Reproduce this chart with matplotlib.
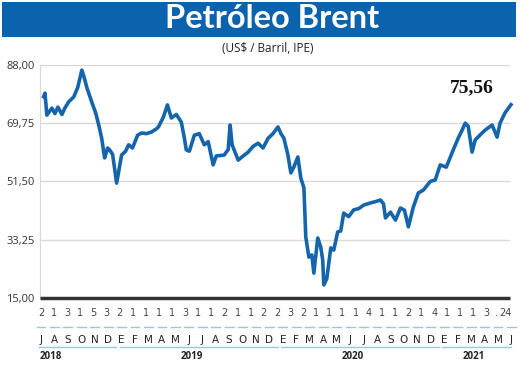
import matplotlib
matplotlib.use("Agg")
import matplotlib.pyplot as plt
from matplotlib.patches import Rectangle

# meses desde jul/2018 (0 = julho 2018) e preço do Brent
meses = [0.2, 0.3, 0.44, 0.81, 1.04, 1.26, 1.56, 1.78, 2.07, 2.44, 2.74, 3.04, 3.19, 3.41,
         3.78, 4.07, 4.30, 4.52, 4.67, 4.74, 4.96, 5.11, 5.33, 5.63, 6.0, 6.3, 6.52, 6.81,
         7.19, 7.48, 7.85, 8.22, 8.59, 8.74, 9.11, 9.41, 9.7, 10.07, 10.44, 10.67, 10.81,
         11.04, 11.41, 11.78, 12.15, 12.44, 12.81, 13.04, 13.63, 13.93, 14.07, 14.22, 14.67,
         15.04, 15.41, 15.78, 16.15, 16.52, 16.89, 17.26, 17.63, 17.85, 18.07, 18.37, 18.59,
         18.81, 19.11, 19.33, 19.56, 19.70, 19.93, 20.15, 20.3, 20.59, 20.81, 20.96, 21.04,
         21.26, 21.56, 21.78, 22.07, 22.3, 22.52, 22.89, 23.26, 23.63, 24.0, 24.52, 24.89,
         25.26, 25.48, 25.63, 26.0, 26.37, 26.74, 27.04, 27.33, 27.7, 28.07, 28.44, 28.96,
         29.33, 29.7, 30.15, 30.67, 31.04, 31.33, 31.56, 31.78, 32.07, 32.3, 32.67, 33.04,
         33.56, 33.93, 34.15, 34.52, 34.96]
preco = [78.1, 79.2, 72.3, 74.5, 72.8, 74.8, 72.5, 74.5, 76.5, 78.0, 81.0, 86.4, 84.5, 81.0,
         76.4, 73.0, 69.2, 65.0, 60.7, 58.9, 62.0, 61.4, 60.0, 51.0, 59.8, 61.0, 63.0, 62.0,
         66.0, 66.7, 66.5, 67.0, 68.0, 68.6, 71.7, 75.5, 71.4, 72.5, 70.1, 65.1, 61.4,
         61.0, 66.0, 66.5, 63.0, 64.0, 56.7, 59.5, 59.8, 61.5, 69.2, 63.0, 58.2,
         59.5, 60.7, 62.5, 63.5, 62.0, 65.0, 66.5, 68.6, 66.5, 65.1, 59.8, 54.2,
         56.0, 59.2, 52.6, 49.5, 34.1, 27.8, 28.5, 22.8, 33.8, 31.0, 26.9, 19.1,
         21.0, 30.7, 30.0, 35.7, 36.0, 41.6, 40.5, 42.6, 43.0, 44.1, 44.8, 45.2,
         45.7, 44.5, 40.1, 41.9, 39.4, 43.2, 42.5, 37.3, 43.5, 47.9, 48.8, 51.5,
         52.0, 56.7, 56.0, 61.4, 65.1, 67.6, 69.8, 68.8, 60.7, 64.5, 66.1, 67.6,
         69.2, 65.4, 69.8, 73.0, 75.56]

letras = list("JASOND") + list("EFMAMJJASOND") * 2 + list("EFMAMJ")
dias = ["2", "1", "3", "1", "5", "3", "2", "1", "1", "1", "1", "3", "1", "1", "2", "1", "1", "2",
        "2", "3", "2", "1", "1", "1", "1", "4", "1", "1", "2", "1", "4", "1", "1", "1", "3"]
fim_dias = [".", "24"]
anos = ["2018", "2019", "2020", "2021"]
yticks = [15.0, 33.25, 51.5, 69.75, 88.0]
ultimo = "75,56"

azul = "#0b63ae"
azul_claro = "#9cc7e4"

W, H = 520, 367
fig = plt.figure(figsize=(W / 100, H / 100), dpi=100)

# barra do título
fig.patches.append(Rectangle((2 / W, 1 - 37 / H), 514 / W, 35 / H, transform=fig.transFigure,
                             facecolor=azul, edgecolor="none"))
fig.text(272 / W, 1 - 19 / H, "Petróleo Brent", color="white", fontsize=23.5, fontweight="bold",
         family="Lato", ha="center", va="center")
fig.text(268 / W, 1 - 48 / H, "(US$ / Barril, IPE)", color="#222222", fontsize=8.5,
         family="Open Sans", ha="center", va="center")

ax = fig.add_axes([40 / W, (H - 298) / H, 470 / W, 233 / H])
ax.plot(meses, preco, color="#1565ad", lw=2.6, solid_joinstyle="round", clip_on=False, zorder=3)
ax.set_xlim(-0.07, 34.89)
ax.set_ylim(15, 88)
ax.set_yticks(yticks)
ax.set_yticklabels([f"{v:.2f}".replace(".", ",") for v in yticks], fontsize=8,
                   color="#333333", family="Open Sans")
ax.tick_params(axis="y", length=0, pad=4)
ax.set_xticks([])
ax.grid(axis="y", color="#d9d9d9", lw=1)
for s in ["top", "right"]:
    ax.spines[s].set_visible(False)
ax.spines["left"].set_color("#d9d9d9")
ax.spines["bottom"].set_color("#333333")
ax.spines["bottom"].set_linewidth(2.5)
ax.spines["bottom"].set_capstyle("butt")

tr = ax.get_xaxis_transform()
fonte_cond = ["Liberation Sans Narrow", "DejaVu Sans"]
for i, d in enumerate(dias):
    ax.text(i * 0.975, -0.064, d, transform=tr, ha="center", va="center", fontsize=7,
            color="#444444", family=fonte_cond)
ax.text(33.85, -0.064, fim_dias[0], transform=tr, ha="center", va="center", fontsize=7,
        color="#444444", family=fonte_cond)
ax.text(35.0, -0.064, fim_dias[1], transform=tr, ha="right", va="center", fontsize=7,
        color="#444444", family=fonte_cond)
for i, l in enumerate(letras):
    ax.plot([i - 0.33, i + 0.33], [-0.125, -0.125], transform=tr, color=azul_claro,
            lw=1, clip_on=False)
    ax.text(i, -0.18, l, transform=tr, ha="center", va="center", fontsize=7.5,
            color="#222222", family=fonte_cond)

# faixas de ano
inicio = [0, 6, 18, 30]
fim = [5, 17, 29, 35]
for a, i0, i1 in zip(anos, inicio, fim):
    ax.plot([i0 - 0.15, min(i1 + 0.6, 35)], [-0.21, -0.21], transform=tr, color=azul_claro,
            lw=1, clip_on=False)
    xa = -0.1 if a == "2018" else (i0 + i1) / 2 - 0.3
    ax.text(xa, -0.253, a, transform=tr, ha="left" if a == "2018" else "center",
            va="center", fontsize=7, fontweight="bold", color="#222222", family="Open Sans")

fig.text(472 / W, 1 - 88 / H, ultimo, fontsize=14, fontweight="bold",
         family="Liberation Serif", ha="center", va="center", color="#111111")

fig.savefig("out.png", dpi=100)
